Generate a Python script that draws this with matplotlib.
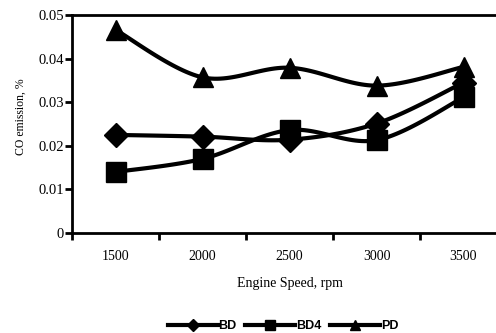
import numpy as np
import matplotlib.pyplot as plt
from matplotlib.ticker import FixedLocator

speeds = ["1500", "2000", "2500", "3000", "3500"]
bd = [0.0225, 0.0221, 0.0214, 0.0251, 0.0345]
bd4 = [0.0140, 0.0170, 0.0236, 0.0213, 0.0311]
pd = [0.0466, 0.0357, 0.0379, 0.0338, 0.0381]
y_ticks = [0, 0.01, 0.02, 0.03, 0.04, 0.05]
y_labels = ["0", "0.01", "0.02", "0.03", "0.04", "0.05"]


def smooth(x, y, n=30):
    # Catmull-Rom style bezier, like Excel's smoothed line
    x = np.asarray(x, float)
    y = np.asarray(y, float)
    px = np.concatenate([[x[0]], x, [x[-1]]])
    py = np.concatenate([[y[0]], y, [y[-1]]])
    xs, ys = [], []
    t = np.linspace(0, 1, n)
    for i in range(1, len(x)):
        p0 = np.array([px[i], py[i]])
        p3 = np.array([px[i + 1], py[i + 1]])
        c1 = p0 + (p3 - np.array([px[i - 1], py[i - 1]])) / 6
        c2 = p3 - (np.array([px[i + 2], py[i + 2]]) - p0) / 6
        b = ((1 - t) ** 3)[:, None] * p0 + (3 * (1 - t) ** 2 * t)[:, None] * c1 \
            + (3 * (1 - t) * t ** 2)[:, None] * c2 + (t ** 3)[:, None] * p3
        xs.append(b[:, 0])
        ys.append(b[:, 1])
    return np.concatenate(xs), np.concatenate(ys)


fig = plt.figure(figsize=(4.96, 3.33), dpi=100)
ax = fig.add_axes([72 / 496, 100 / 333, 435 / 496, 218 / 333])

xi = np.arange(len(speeds))
series = [("BD", bd, "D", 12), ("BD4", bd4, "s", 14), ("PD", pd, "^", 15)]
handles = []
for name, vals, mk, ms in series:
    sx, sy = smooth(xi, vals)
    ax.plot(sx, sy, color="black", lw=3, zorder=2)
    ax.plot(xi, vals, ls="none", marker=mk, ms=ms, color="black", zorder=3, clip_on=False)
    h, = ax.plot([], [], color="black", lw=3, marker=mk, ms=6.5, label=name)
    handles.append(h)

ax.set_xlim(-0.5, len(speeds) - 0.5)
ax.set_ylim(0, 0.05)
ax.set_xticks(xi)
ax.set_xticklabels(speeds)
ax.xaxis.set_minor_locator(FixedLocator(np.arange(-0.5, len(speeds), 1.0)))
ax.tick_params(axis="x", which="major", length=0, pad=12)
ax.tick_params(axis="x", which="minor", length=5, width=2, direction="out")
ax.set_yticks(y_ticks)
ax.set_yticklabels(y_labels)
ax.tick_params(axis="y", length=5, width=2, direction="out", pad=1)
for lab in ax.get_xticklabels() + ax.get_yticklabels():
    lab.set_family("Liberation Serif")
    lab.set_fontsize(10)
for lab in ax.get_yticklabels():
    lab.set_fontsize(10.5)

ax.spines["right"].set_visible(False)
for s in ["left", "bottom", "top"]:
    ax.spines[s].set_linewidth(2)

ax.set_xlabel("Engine Speed, rpm", family="Liberation Serif", fontsize=10, labelpad=10)
fig.text(21 / 496, 1 - 117 / 333, "CO emission, %", family="Liberation Serif", fontsize=8.5,
         rotation=90, ha="center", va="center")

fig.legend(handles=handles, loc="center", bbox_to_anchor=(283 / 496, 1 - 326 / 333),
           ncol=3, frameon=False, handlelength=4.0, handletextpad=0.05, columnspacing=0.7,
           prop={"family": "Liberation Sans", "weight": "bold", "size": 9})

fig.savefig("out.png", dpi=100)
